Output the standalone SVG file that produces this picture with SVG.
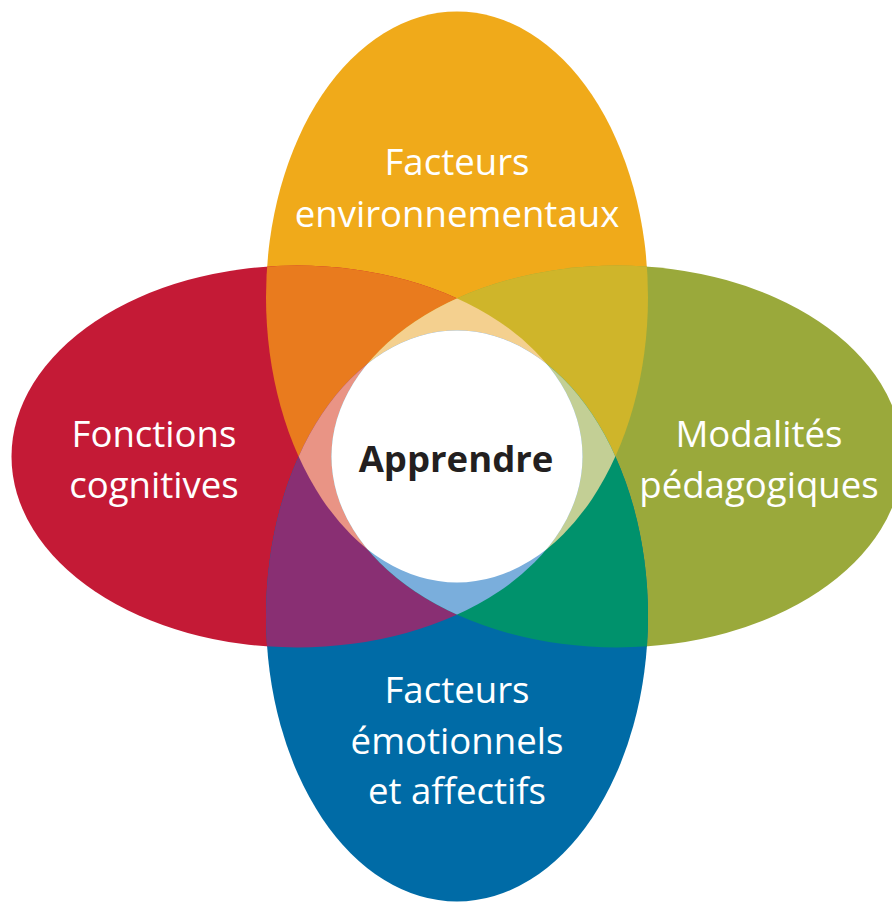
<svg xmlns="http://www.w3.org/2000/svg" width="892" height="902" viewBox="0 0 892 902">
<defs>
<style>
.lbl{font-family:"Open Sans","Noto Sans","Liberation Sans",sans-serif;font-size:36.6px;fill:#ffffff;text-anchor:middle}
.ctr{font-family:"Open Sans","Noto Sans","Liberation Sans",sans-serif;font-size:36.5px;font-weight:700;fill:#231f20;text-anchor:middle}
</style>
<ellipse id="eT" cx="457" cy="297" rx="191" ry="285.5"/>
<ellipse id="eB" cx="457" cy="616" rx="191" ry="285.5"/>
<ellipse id="eL" cx="297" cy="456.5" rx="285.5" ry="191"/>
<ellipse id="eR" cx="617" cy="456.5" rx="285.5" ry="191"/>
<clipPath id="cT"><use href="#eT"/></clipPath>
<clipPath id="cB"><use href="#eB"/></clipPath>
<clipPath id="cL"><use href="#eL"/></clipPath>
<clipPath id="cR"><use href="#eR"/></clipPath>
</defs>
<rect width="892" height="902" fill="#ffffff"/>
<g id="node-environnementaux">
<use href="#eT" fill="#F0AA1A"/>
<text class="lbl" x="457" y="175">Facteurs</text>
<text class="lbl" x="457" y="227">environnementaux</text>
</g>
<g id="node-cognitives">
<use href="#eL" fill="#C41A36"/>
<text class="lbl" x="154" y="447">Fonctions</text>
<text class="lbl" x="154" y="498">cognitives</text>
</g>
<g id="node-pedagogiques">
<use href="#eR" fill="#9AA93B"/>
<text class="lbl" x="759" y="447">Modalités</text>
<text class="lbl" x="759" y="498">pédagogiques</text>
</g>
<g id="node-emotionnels">
<use href="#eB" fill="#006BA6"/>
<text class="lbl" x="457" y="703">Facteurs</text>
<text class="lbl" x="457" y="754">émotionnels</text>
<text class="lbl" x="457" y="804">et affectifs</text>
</g>
<g id="overlaps">
<g clip-path="url(#cT)"><use href="#eL" fill="#E97B1E"/><use href="#eR" fill="#CFB52A"/></g>
<g clip-path="url(#cB)"><use href="#eL" fill="#892F73"/><use href="#eR" fill="#00926C"/></g>
<g clip-path="url(#cT)"><g clip-path="url(#cL)"><use href="#eR" fill="#F4D08F"/><use href="#eB" fill="#E99485"/></g></g>
<g clip-path="url(#cB)"><g clip-path="url(#cR)"><use href="#eT" fill="#C3CF95"/><use href="#eL" fill="#7AAEDC"/></g></g>
</g>
<g id="node-apprendre">
<g clip-path="url(#cT)"><g clip-path="url(#cB)"><g clip-path="url(#cL)"><use href="#eR" fill="#ffffff"/></g></g></g>
<text class="ctr" x="456" y="472">Apprendre</text>
</g>
</svg>
